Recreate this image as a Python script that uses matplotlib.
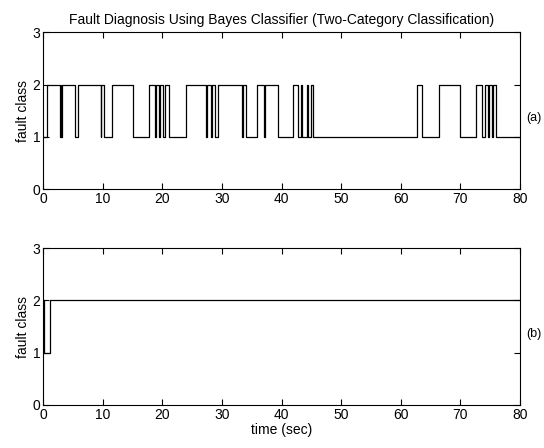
import numpy as np
import matplotlib
matplotlib.use("Agg")
import matplotlib.pyplot as plt

plt.rcParams['font.family'] = ['Liberation Sans', 'DejaVu Sans']

# (a) Bayes classifier output: change times [sec] and class held from that time
a_times = [0, 0.6, 2.9, 3.0, 3.1, 3.2, 5.4, 5.9, 9.7, 9.8, 10.3, 11.6, 15.1,
           17.8, 18.8, 19.0, 19.5, 19.7, 20.1, 20.4, 21.1, 23.9,
           27.3, 27.5, 28.2, 28.4, 28.9, 29.3, 33.4, 33.6, 34.0, 35.9,
           37.1, 37.3, 39.4, 42.0, 42.8, 43.3, 43.5, 44.3, 44.5, 45.0, 45.3,
           62.8, 63.5, 66.4, 69.9, 72.6, 73.6, 74.2, 74.7, 74.8, 75.3, 75.4,
           75.9, 80]
a_class = [1, 2, 1, 2, 1, 2, 1, 2, 1, 2, 1, 2, 1,
           2, 1, 2, 1, 2, 1, 2, 1, 2,
           1, 2, 1, 2, 1, 2, 1, 2, 1, 2,
           1, 2, 1, 2, 1, 2, 1, 2, 1, 2, 1,
           2, 1, 2, 1, 2, 1, 2, 1, 2, 1, 2,
           1, 1]

# (b) second classifier output
b_times = [0, 0.1, 1.2, 80]
b_class = [2, 1, 2, 2]

title = "Fault Diagnosis Using Bayes Classifier (Two-Category Classification)"
xticks = [0, 10, 20, 30, 40, 50, 60, 70, 80]
yticks = [0, 1, 2, 3]

fig = plt.figure(figsize=(5.44, 4.48), dpi=100)
ax_a = fig.add_axes([0.079, 0.578, 0.877, 0.350])
ax_b = fig.add_axes([0.079, 0.096, 0.877, 0.350])

for ax, t, c, tag in [(ax_a, a_times, a_class, '(a)'), (ax_b, b_times, b_class, '(b)')]:
    ax.plot(t, c, drawstyle='steps-post', color='black', linewidth=0.9)
    ax.set_xlim(0, 80)
    ax.set_ylim(0, 3)
    ax.set_xticks(xticks)
    ax.set_yticks(yticks)
    ax.tick_params(direction='in', length=4, width=0.8, top=True, right=True,
                   labelsize=10, pad=2)
    for s in ax.spines.values():
        s.set_linewidth(0.8)
    ax.set_ylabel('fault class', fontsize=10, labelpad=2)
    ax.text(1.012, 0.45, tag, transform=ax.transAxes, fontsize=9,
            va='center', ha='left')

ax_a.set_title(title, fontsize=10, pad=6)
ax_b.set_xlabel('time (sec)', fontsize=10, labelpad=1)

fig.savefig('out.png', dpi=100)
